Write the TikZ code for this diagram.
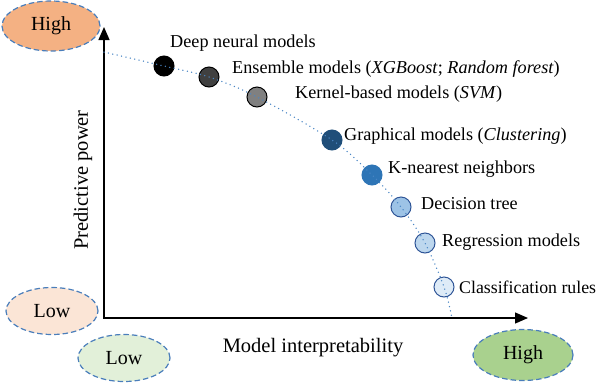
\documentclass[tikz,border=0pt]{standalone}
\usepackage{fontspec}
\setmainfont{Liberation Serif}
\usetikzlibrary{arrows.meta,shapes.geometric}
\definecolor{ellblue}{HTML}{4A7EBB}
\definecolor{hiorange}{HTML}{F4B183}
\definecolor{loorange}{HTML}{FBE5D6}
\definecolor{logreen}{HTML}{E2F0D9}
\definecolor{higreen}{HTML}{A9D18E}
\definecolor{curveblue}{HTML}{4A86C5}
\definecolor{cA}{HTML}{000000}
\definecolor{cB}{HTML}{404040}
\definecolor{cC}{HTML}{808080}
\definecolor{cD}{HTML}{1F4E79}
\definecolor{cE}{HTML}{2E75B6}
\definecolor{cF}{HTML}{9DC3E6}
\definecolor{cG}{HTML}{BDD7EE}
\definecolor{cH}{HTML}{DEEBF7}
\definecolor{lightrim}{HTML}{2F5597}
\begin{document}
\begin{tikzpicture}[x=1pt,y=-1pt,
  lvl/.style={ellipse, draw=ellblue, dash pattern=on 5.5pt off 3pt, line width=1.2pt,
    inner sep=0pt, font=\fontsize{20}{23}\selectfont},
  dotnode/.style={circle, minimum size=20pt, inner sep=0pt, line width=1pt},
  lbl/.style={anchor=base west, inner sep=0pt, font=\fontsize{18.2}{21}\selectfont},
  axislbl/.style={inner sep=0pt, font=\fontsize{20.5}{23}\selectfont},
  axisline/.style={line width=1.3pt, line join=miter,
    {Triangle[length=13pt,width=11pt]}-{Triangle[length=13pt,width=11pt]}},
  curveline/.style={draw=curveblue, line width=1.5pt, line cap=round,
    dash pattern=on 0pt off 4.5pt}
]
\useasboundingbox (0,0) rectangle (600,384);

% level ellipses
\node[lvl, fill=hiorange, minimum width=98pt, minimum height=50pt] (hiY) at (51,26) {High};
\node[lvl, fill=loorange, minimum width=92pt, minimum height=47pt] (loY) at (52,311) {Low};
\node[lvl, fill=logreen, minimum width=92pt, minimum height=47pt] (loX) at (124,358) {Low};
\node[lvl, fill=higreen, minimum width=100pt, minimum height=51pt] (hiX) at (523,355) {High};

% axes
\coordinate (Ytop) at (104,27);
\coordinate (O) at (104,318);
\coordinate (Xend) at (528,318);
\draw[axisline] (Ytop) -- (O) -- (Xend);

\node[axislbl, rotate=90] (ylab) at (83,180) {Predictive power};
\node[axislbl, anchor=base] (xlab) at (313,352) {Model interpretability};

% model dots
\node[dotnode, fill=cA, draw=black] (d1) at (164,66) {};
\node[dotnode, fill=cB, draw=black] (d2) at (209,77) {};
\node[dotnode, fill=cC, draw=black] (d3) at (257,97) {};
\node[dotnode, fill=cD, draw=cD] (d4) at (332,140) {};
\node[dotnode, fill=cE, draw=cE] (d5) at (372,175) {};
\node[dotnode, fill=cF, draw=lightrim] (d6) at (401,207) {};
\node[dotnode, fill=cG, draw=lightrim] (d7) at (425,243) {};
\node[dotnode, fill=cH, draw=lightrim] (d8) at (444,287) {};

% trend curve
\coordinate (cs) at (104,52);
\coordinate (ce) at (452,318);
\draw[curveline] plot[smooth, tension=0.55] coordinates {(cs) (d1.center) (d2.center) (d3.center) (d4.center) (d5.center) (d6.center) (d7.center) (d8.center) (ce)};

% labels
\node[lbl] (t1) at (170,47) {Deep neural models};
\node[lbl] (t2) at (232,73) {Ensemble models (\textit{XGBoost}; \textit{Random forest})};
\node[lbl] (t3) at (295,98) {Kernel-based models (\textit{SVM})};
\node[lbl] (t4) at (344,140) {Graphical models (\textit{Clustering})};
\node[lbl] (t5) at (388,173) {K-nearest neighbors};
\node[lbl] (t6) at (421,209) {Decision tree};
\node[lbl] (t7) at (442,246) {Regression models};
\node[lbl, font=\fontsize{17.8}{21}\selectfont] (t8) at (459,293) {Classification rules};
\end{tikzpicture}
\end{document}
